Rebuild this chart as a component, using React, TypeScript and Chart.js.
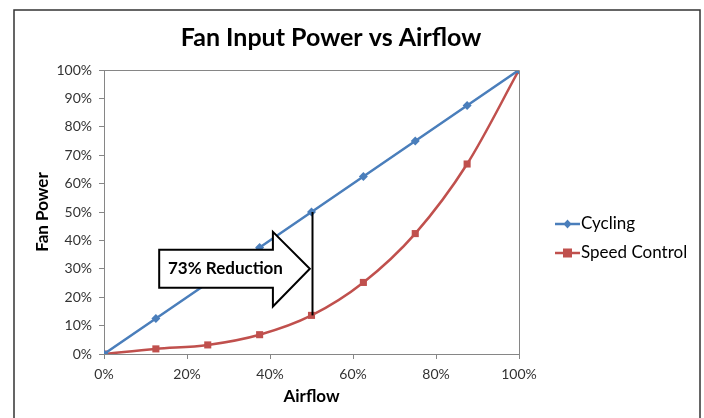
import React, { useEffect, useRef } from "react";
import { Chart, registerables } from "chart.js";

Chart.register(...registerables);

const airflow = [0, 12.5, 25, 37.5, 50, 62.5, 75, 87.5, 100];
const cycling = [0, 12.5, 25, 37.5, 50, 62.5, 75, 87.5, 100];
const speedControl = [0, 1.8, 3.2, 6.8, 13.6, 25.2, 42.4, 66.9, 100];
const seriesNames = ["Cycling", "Speed Control"];
const seriesColors = ["#4A7EBB", "#C0504D"];
const chartTitle = "Fan Input Power vs Airflow";
const xTitle = "Airflow";
const yTitle = "Fan Power";
const annotationText = "73% Reduction";
const annotationIndex = 4;
// arrow shape in data units (x: airflow %, y: power %)
const arrowBody = { x0: 13.3, x1: 40.7, yTop: 36.7, yBottom: 23.3 };
const arrowHead = { yTop: 43, yBottom: 16.7, tipX: 49.6, tipY: 30 };

const FONT = "Lato, 'Open Sans', sans-serif";

const extrasPlugin = {
  id: "extras",
  beforeDraw(chart: any) {
    const ctx = chart.ctx;
    ctx.save();
    ctx.fillStyle = "#ffffff";
    ctx.fillRect(0, 0, chart.width, chart.height);
    ctx.restore();
  },
  afterDraw(chart: any) {
    const ctx = chart.ctx;
    const { chartArea } = chart;
    const xs = chart.scales.x;
    const ys = chart.scales.y;
    ctx.save();
    // outer frame
    ctx.strokeStyle = "#333333";
    ctx.lineWidth = 1.5;
    ctx.strokeRect(14, 10, chart.width - 18, chart.height + 20);
    // plot area frame (top and right)
    ctx.strokeStyle = "#868686";
    ctx.lineWidth = 1;
    ctx.beginPath();
    ctx.moveTo(chartArea.left, chartArea.top + 0.5);
    ctx.lineTo(chartArea.right + 0.5, chartArea.top + 0.5);
    ctx.lineTo(chartArea.right + 0.5, chartArea.bottom);
    ctx.stroke();

    // arrow
    const px = (v: number) => xs.getPixelForValue(v);
    const py = (v: number) => ys.getPixelForValue(v);
    ctx.beginPath();
    ctx.moveTo(px(arrowBody.x0), py(arrowBody.yTop));
    ctx.lineTo(px(arrowBody.x1), py(arrowBody.yTop));
    ctx.lineTo(px(arrowBody.x1), py(arrowHead.yTop));
    ctx.lineTo(px(arrowHead.tipX), py(arrowHead.tipY));
    ctx.lineTo(px(arrowBody.x1), py(arrowHead.yBottom));
    ctx.lineTo(px(arrowBody.x1), py(arrowBody.yBottom));
    ctx.lineTo(px(arrowBody.x0), py(arrowBody.yBottom));
    ctx.closePath();
    ctx.fillStyle = "#ffffff";
    ctx.fill();
    ctx.strokeStyle = "#000000";
    ctx.lineWidth = 2;
    ctx.lineJoin = "miter";
    ctx.stroke();
    ctx.fillStyle = "#000000";
    ctx.font = `bold 17px ${FONT}`;
    ctx.textAlign = "center";
    ctx.textBaseline = "middle";
    const tx = px(arrowBody.x0 + (arrowHead.tipX - arrowBody.x0) * 0.44);
    ctx.fillText(annotationText, tx, py(arrowHead.tipY));

    // vertical reduction line
    ctx.beginPath();
    ctx.lineWidth = 2;
    ctx.moveTo(px(airflow[annotationIndex]) + 1, py(cycling[annotationIndex]));
    ctx.lineTo(px(airflow[annotationIndex]) + 1, py(speedControl[annotationIndex]));
    ctx.stroke();

    // legend
    const lx = chartArea.right + 36;
    const cy = (chartArea.top + chartArea.bottom) / 2;
    chart.data.datasets.forEach((ds: any, i: number) => {
      const y = cy + 12 + i * 29;
      ctx.strokeStyle = ds.borderColor;
      ctx.lineWidth = 2.5;
      ctx.beginPath();
      ctx.moveTo(lx, y);
      ctx.lineTo(lx + 25, y);
      ctx.stroke();
      ctx.fillStyle = ds.backgroundColor;
      const mx = lx + 12.5;
      if (ds.pointStyle === "rect") {
        ctx.fillRect(mx - 4.5, y - 4.5, 9, 9);
      } else {
        ctx.beginPath();
        ctx.moveTo(mx, y - 4.5);
        ctx.lineTo(mx + 4, y);
        ctx.lineTo(mx, y + 4.5);
        ctx.lineTo(mx - 4, y);
        ctx.closePath();
        ctx.fill();
      }
      ctx.fillStyle = "#000000";
      ctx.font = `17px ${FONT}`;
      ctx.textAlign = "left";
      ctx.textBaseline = "middle";
      ctx.fillText(ds.label, lx + 26, y);
    });
    ctx.restore();
  },
};

export default function App() {
  const ref = useRef<HTMLCanvasElement | null>(null);
  useEffect(() => {
    if (!ref.current) return;
    const chart = new Chart(ref.current, {
      type: "line",
      data: {
        datasets: [
          {
            label: seriesNames[0],
            data: airflow.map((x, i) => ({ x, y: cycling[i] })),
            borderColor: seriesColors[0],
            backgroundColor: seriesColors[0],
            borderWidth: 2.5,
            pointStyle: "rectRot",
            pointRadius: 4.5,
            pointBorderWidth: 0,
            tension: 0,
          },
          {
            label: seriesNames[1],
            data: airflow.map((x, i) => ({ x, y: speedControl[i] })),
            borderColor: seriesColors[1],
            backgroundColor: seriesColors[1],
            borderWidth: 2.5,
            pointStyle: "rect",
            pointRadius: 5,
            pointBorderWidth: 0,
            cubicInterpolationMode: "monotone",
          },
        ],
      },
      options: {
        animation: false,
        responsive: false,
        layout: { padding: { left: 28, right: 70, top: 0, bottom: 0 } },
        plugins: {
          legend: { display: false },
          tooltip: { enabled: false },
          title: {
            display: true,
            text: chartTitle,
            color: "#000000",
            font: { family: FONT, size: 25, weight: "bold" },
            padding: { top: 23, bottom: 17 },
          },
        },
        scales: {
          x: {
            type: "linear",
            min: 0,
            max: 100,
            afterFit: (s: any) => {
              s.height = 64;
            },
            ticks: {
              stepSize: 20,
              callback: (v: any) => v + "%",
              color: "#333333",
              font: { family: FONT, size: 14 },
              padding: 7,
              maxRotation: 0,
            },
            grid: { drawOnChartArea: false, drawTicks: true, tickLength: 5, color: "#868686" },
            border: { display: true, color: "#868686" },
            title: {
              display: true,
              text: xTitle,
              color: "#000000",
              font: { family: FONT, size: 17, weight: "bold" },
              padding: { top: 0, bottom: 11 },
            },
          },
          y: {
            min: 0,
            max: 100,
            afterFit: (s: any) => {
              s.width = 76;
            },
            ticks: {
              stepSize: 10,
              callback: (v: any) => v + "%",
              color: "#333333",
              font: { family: FONT, size: 14 },
              padding: 7,
            },
            grid: { drawOnChartArea: false, drawTicks: true, tickLength: 5, color: "#868686" },
            border: { display: true, color: "#868686" },
            title: {
              display: true,
              text: yTitle,
              color: "#000000",
              font: { family: FONT, size: 17, weight: "bold" },
              padding: { top: 4, bottom: 4 },
            },
          },
          legendSpace: {
            type: "linear",
            position: "right",
            display: true,
            afterFit: (s: any) => {
              s.width = 115;
            },
            ticks: { display: false },
            grid: { display: false },
            border: { display: false },
          },
        },
      },
      plugins: [extrasPlugin],
    } as any);
    return () => chart.destroy();
  }, []);
  return (
    <div style={{ position: "fixed", left: 0, top: 0, width: 704, height: 418, background: "#fff" }}>
      <canvas ref={ref} width={704} height={418} style={{ width: 704, height: 418, display: "block" }} />
    </div>
  );
}
